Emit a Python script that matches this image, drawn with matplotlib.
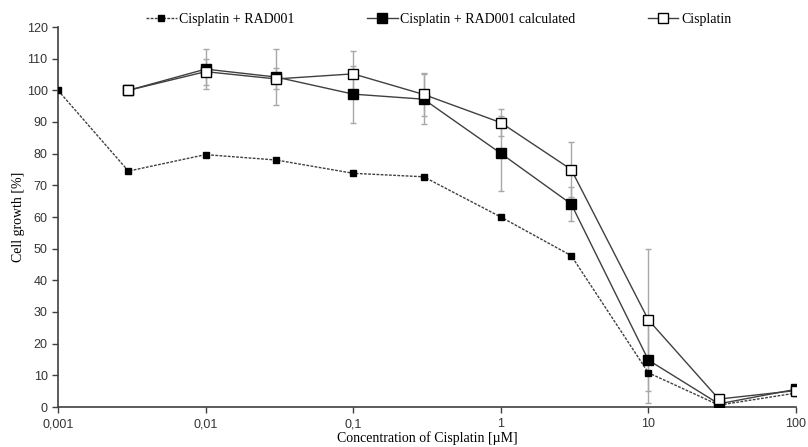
import matplotlib
matplotlib.use("Agg")
import matplotlib.pyplot as plt

conc = [0.001, 0.003, 0.01, 0.03, 0.1, 0.3, 1, 3, 10, 30, 100]
rad = [100, 74.5, 79.7, 78.0, 73.8, 72.7, 60.0, 47.8, 10.8, 0.6, 4.4]

conc2 = [0.003, 0.01, 0.03, 0.1, 0.3, 1, 3, 10, 30, 100]
calc = [100, 106.7, 104.2, 98.8, 97.2, 80.1, 64.1, 14.8, 1.0, 5.6]
calc_err = [0, 6.3, 8.7, 9.0, 7.9, 11.9, 5.5, 13.4, 0.5, 0.5]
cis = [100, 105.9, 103.6, 105.2, 98.7, 89.8, 75.0, 27.5, 2.5, 5.2]
cis_err = [0, 4.1, 3.3, 7.3, 6.9, 4.3, 8.6, 22.5, 1.0, 0.8]

xticks = [0.001, 0.01, 0.1, 1, 10, 100]
xticklabels = ["0,001", "0,01", "0,1", "1", "10", "100"]
yticks = list(range(0, 121, 10))

fig = plt.figure(figsize=(8.08, 4.47), dpi=100)
ax = fig.add_axes([58/808, 40/447, (796-58)/808, (407-27)/447])

lc = "#404040"
ec = "#a8a8a8"

ax.errorbar(conc2, calc, yerr=calc_err, fmt="none", ecolor=ec, elinewidth=1.0, capsize=2.5, capthick=1.0, zorder=1)
ax.errorbar(conc2, cis, yerr=cis_err, fmt="none", ecolor=ec, elinewidth=1.0, capsize=2.5, capthick=1.0, zorder=1)

l1, = ax.plot(conc, rad, linestyle=(0, (2, 1)), color=lc, linewidth=1.0, marker="s",
              markersize=5, markerfacecolor="black", markeredgecolor="black", zorder=3,
              label="Cisplatin + RAD001")
l2, = ax.plot(conc2, calc, linestyle="-", color=lc, linewidth=1.0, marker="s",
              markersize=7, markerfacecolor="black", markeredgecolor="black", zorder=4,
              label="Cisplatin + RAD001 calculated")
l3, = ax.plot(conc2, cis, linestyle="-", color=lc, linewidth=1.0, marker="s",
              markersize=7, markerfacecolor="white", markeredgecolor="black", zorder=5,
              label="Cisplatin")

ax.set_xscale("log")
ax.set_xlim(0.001, 100)
ax.set_ylim(0, 120)
ax.set_xticks(xticks)
ax.set_xticklabels(xticklabels)
ax.xaxis.set_minor_locator(matplotlib.ticker.NullLocator())
ax.set_yticks(yticks)

for s in ["top", "right"]:
    ax.spines[s].set_visible(False)
for s in ["left", "bottom"]:
    ax.spines[s].set_color(lc)
    ax.spines[s].set_linewidth(1.2)
ax.tick_params(axis="both", direction="out", length=4, width=1, color=lc,
               labelsize=9, labelcolor="#333333")
ax.tick_params(axis="x", pad=4)
for lab in ax.get_xticklabels() + ax.get_yticklabels():
    lab.set_family(["Liberation Sans", "DejaVu Sans"])

ax.set_xlabel("Concentration of Cisplatin [µM]", family=["Liberation Serif", "DejaVu Serif"],
              fontsize=10, labelpad=1)
ax.set_ylabel("Cell growth [%]", family=["Liberation Serif", "DejaVu Serif"],
              fontsize=10, labelpad=1)

fig.legend(handles=[l1, l2, l3], loc="upper center", bbox_to_anchor=(0.543, 1.0), ncol=3,
           frameon=False, prop={"family": "Liberation Serif", "size": 10},
           columnspacing=5.2, handlelength=2.2, handletextpad=0.2)

fig.savefig("out.png", dpi=100)
